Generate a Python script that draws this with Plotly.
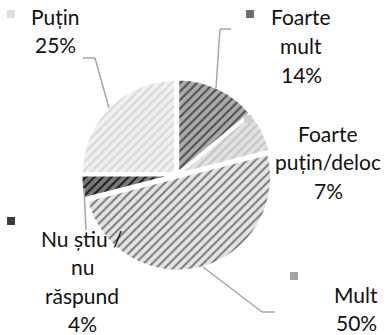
import plotly.graph_objects as go

# Survey answers, in clockwise order starting at 12 o'clock
categories = ["Foarte mult", "Foarte puțin/deloc", "Mult", "Nu știu / nu răspund", "Puțin"]
shares = [14, 7, 50, 4, 25]
label_lines = [
    ["Foarte", "mult"],
    ["Foarte", "puțin/deloc"],
    ["Mult"],
    ["Nu știu /", "nu", "răspund"],
    ["Puțin"],
]

bg_colors = ["#ababab", "#e2e2e2", "#e4e4e4", "#7a7a7a", "#f1f1f1"]
fg_colors = ["#4f4f4f", "#c4c4c4", "#7c7c7c", "#1e1e1e", "#d8d8d8"]
key_colors = ["#6e6e6e", "#cfcfcf", "#a3a3a3", "#3c3c3c", "#e0e0e0"]

W, H = 387, 335
FONT = "Lato"


def px(x, y):
    return x / W, 1 - y / H


cx, cy, r = 177, 175, 96
x0, y0 = px(cx - r, cy - r)
x1, y1 = px(cx + r, cy + r)

fig = go.Figure(
    go.Pie(
        labels=categories,
        values=shares,
        sort=False,
        direction="clockwise",
        rotation=0,
        pull=[0.025] * len(shares),
        textinfo="none",
        hoverinfo="label+percent",
        marker=dict(
            colors=bg_colors,
            line=dict(color="white", width=2.5),
            pattern=dict(
                shape=["/"] * len(shares),
                fgcolor=fg_colors,
                bgcolor=bg_colors,
                size=6,
                solidity=0.35,
                fillmode="replace",
            ),
        ),
        domain=dict(x=[x0, x1], y=[y1, y0]),
        showlegend=False,
    )
)

# Label block anchors (centre of first text line) and legend key positions
label_pos = [(301, 17), (328, 133), (356, 294), (82, 238), (56, 16)]
key_pos = [(250, 14), (248, 119), (294, 276), (11, 221), (11, 14)]
line_h = 28.5

annotations = []
shapes = []
for i, cat in enumerate(categories):
    lx, ly = label_pos[i]
    lines = label_lines[i] + [f"{shares[i]}%"]
    for j, t in enumerate(lines):
        ax, ay = px(lx, ly + j * line_h)
        annotations.append(dict(
            x=ax, y=ay, xref="paper", yref="paper", text=t, showarrow=False,
            xanchor="center", yanchor="middle",
            font=dict(family=FONT, size=21, color="#111111"),
        ))
    kx, ky = key_pos[i]
    ka, kb = px(kx - 4, ky - 4)
    kc, kd = px(kx + 4, ky + 4)
    shapes.append(dict(type="rect", xref="paper", yref="paper",
                       x0=ka, y0=kd, x1=kc, y1=kb,
                       fillcolor=key_colors[i], line=dict(width=0)))

# Leader lines from slices to their labels
leaders = [
    [(231, 29), (220, 29), (216, 88)],
    [(203, 267), (262, 312), (275, 312)],
    [(84, 188), (86, 230)],
    [(83, 58), (95, 58), (109, 108)],
]
for pts in leaders:
    for (ax_, ay_), (bx_, by_) in zip(pts[:-1], pts[1:]):
        a = px(ax_, ay_)
        b = px(bx_, by_)
        shapes.append(dict(type="line", xref="paper", yref="paper",
                           x0=a[0], y0=a[1], x1=b[0], y1=b[1],
                           line=dict(color="#a6a6a6", width=1.5)))

fig.update_layout(
    width=W, height=H,
    margin=dict(l=0, r=0, t=0, b=0),
    paper_bgcolor="white", plot_bgcolor="white",
    annotations=annotations,
    shapes=shapes,
)

fig.write_html("out.html")
